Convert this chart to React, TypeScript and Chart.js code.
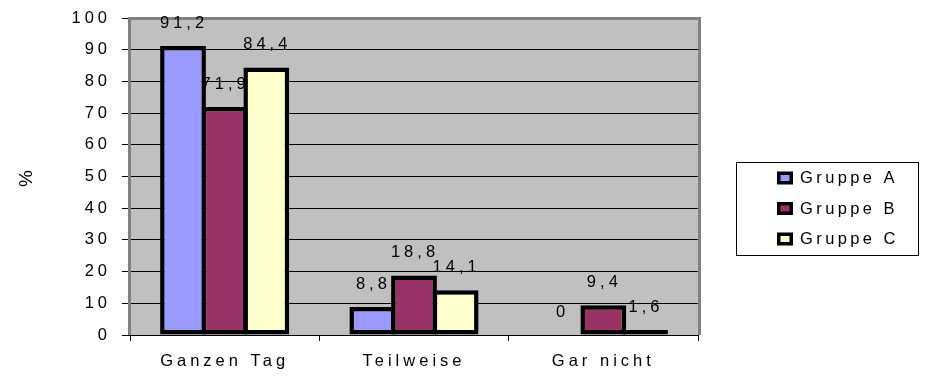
import { useEffect, useRef } from 'react';
import { Chart, registerables } from 'chart.js';

Chart.register(...registerables);

// Survey result: share of each group per attendance category, in percent
const categories = ['Ganzen Tag', 'Teilweise', 'Gar nicht'];
const seriesNames = ['Gruppe A', 'Gruppe B', 'Gruppe C'];
const gruppeA = [91.2, 8.8, 0];
const gruppeB = [71.9, 18.8, 9.4];
const gruppeC = [84.4, 14.1, 1.6];
const seriesColors = ['#9999FF', '#993366', '#FFFFCC'];
const yMin = 0;
const yMax = 100;
const yStep = 10;
const yAxisTitle = '%';

const FONT = '"Liberation Sans", Arial, sans-serif';
const TEXT_SIZE = 16.5;
const SPACING = 4;
const PLOT_BG = '#C0C0C0';
const FRAME = '#808080';

const formatDe = (v: number) => String(v).replace('.', ',');

const setSpacing = (ctx: CanvasRenderingContext2D, px: number) => {
  (ctx as any).letterSpacing = `${px}px`;
};

// Grey plot area with a grey frame on top, left and right
const plotFrame = {
  id: 'plotFrame',
  beforeDraw(chart: Chart) {
    const { ctx, chartArea: a } = chart;
    ctx.save();
    ctx.fillStyle = PLOT_BG;
    ctx.fillRect(a.left, a.top, a.right - a.left, a.bottom - a.top);
    ctx.restore();
    setSpacing(ctx, SPACING);
  },
  beforeDatasetsDraw(chart: Chart) {
    const { ctx, chartArea: a } = chart;
    ctx.save();
    ctx.strokeStyle = FRAME;
    ctx.lineWidth = 3;
    ctx.beginPath();
    ctx.moveTo(a.left - 0.5, a.bottom);
    ctx.lineTo(a.left - 0.5, a.top + 0.5);
    ctx.lineTo(a.right + 1.5, a.top + 0.5);
    ctx.lineTo(a.right + 1.5, a.bottom);
    ctx.stroke();
    ctx.restore();
  },
};

// Value above every bar, German decimal comma
const valueLabels = {
  id: 'valueLabels',
  afterDatasetsDraw(chart: Chart) {
    const { ctx } = chart;
    ctx.save();
    setSpacing(ctx, SPACING);
    ctx.font = `${TEXT_SIZE}px ${FONT}`;
    ctx.fillStyle = '#000';
    ctx.textAlign = 'center';
    ctx.textBaseline = 'middle';
    chart.data.datasets.forEach((ds, di) => {
      const meta = chart.getDatasetMeta(di);
      meta.data.forEach((el: any, i) => {
        const v = ds.data[i] as number;
        ctx.fillText(formatDe(v), el.x + 1, el.y - 22.5);
      });
    });
    ctx.restore();
  },
};

// Framed legend box to the right of the plot
const boxedLegend = {
  id: 'boxedLegend',
  afterDraw(chart: Chart) {
    const { ctx } = chart;
    const box = { x: 736.5, y: 162.5, w: 182, h: 93 };
    const rowY = [178, 208.5, 239];
    ctx.save();
    ctx.strokeStyle = '#000';
    ctx.lineWidth = 1;
    ctx.strokeRect(box.x, box.y, box.w, box.h);
    setSpacing(ctx, 3.4);
    ctx.font = `${TEXT_SIZE}px ${FONT}`;
    ctx.textAlign = 'left';
    ctx.textBaseline = 'middle';
    chart.data.datasets.forEach((ds, i) => {
      const cy = rowY[i];
      ctx.fillStyle = '#000';
      ctx.fillRect(777, cy - 6.5, 16, 13);
      ctx.fillStyle = ds.backgroundColor as string;
      ctx.fillRect(780.5, cy - 3, 9, 6);
      ctx.fillStyle = '#000';
      ctx.fillText(ds.label as string, 800, cy + 0.5);
    });
    ctx.restore();
  },
};

export default function App() {
  const canvasRef = useRef<HTMLCanvasElement | null>(null);

  useEffect(() => {
    const prevMargin = document.body.style.margin;
    document.body.style.margin = '0';
    const canvas = canvasRef.current;
    if (!canvas) return;

    const values = [gruppeA, gruppeB, gruppeC];
    const chart = new Chart(canvas, {
      type: 'bar',
      data: {
        labels: categories,
        datasets: seriesNames.map((name, i) => ({
          label: name,
          data: values[i],
          backgroundColor: seriesColors[i],
          borderColor: '#000',
          borderWidth: 4.5,
          borderSkipped: false,
          categoryPercentage: 0.66,
          barPercentage: 1.1,
        })),
      },
      options: {
        responsive: false,
        animation: false,
        devicePixelRatio: 1,
        layout: { padding: { top: 18, right: 235, bottom: 0, left: 0 } },
        plugins: {
          legend: { display: false },
          tooltip: { enabled: false },
        },
        scales: {
          x: {
            grid: {
              offset: true,
              drawOnChartArea: false,
              drawTicks: true,
              tickLength: 6,
              color: '#000',
            },
            border: { display: true, color: '#000', width: 1 },
            ticks: {
              color: '#000',
              font: { family: FONT, size: TEXT_SIZE },
              padding: 11,
              maxRotation: 0,
              autoSkip: false,
            },
            afterFit: (s: any) => {
              s.height = 41;
              s.paddingLeft = 0;
              s.paddingRight = 0;
            },
          },
          y: {
            min: yMin,
            max: yMax,
            ticks: {
              stepSize: yStep,
              color: '#000',
              font: { family: FONT, size: TEXT_SIZE },
              padding: 11,
            },
            grid: { color: '#000', lineWidth: 1, tickLength: 8 },
            border: { display: false },
            title: {
              display: true,
              text: yAxisTitle,
              color: '#000',
              font: { family: FONT, size: 19 },
              padding: { top: 15, bottom: 0 },
            },
            afterFit: (s: any) => {
              s.width = 130;
              s.paddingTop = 0;
              s.paddingBottom = 0;
            },
          },
        },
      },
      plugins: [plotFrame, valueLabels, boxedLegend],
    });

    return () => {
      chart.destroy();
      document.body.style.margin = prevMargin;
    };
  }, []);

  return (
    <div style={{ width: 933, height: 376, overflow: 'hidden' }}>
      <canvas ref={canvasRef} width={933} height={376} style={{ display: 'block' }} />
    </div>
  );
}
